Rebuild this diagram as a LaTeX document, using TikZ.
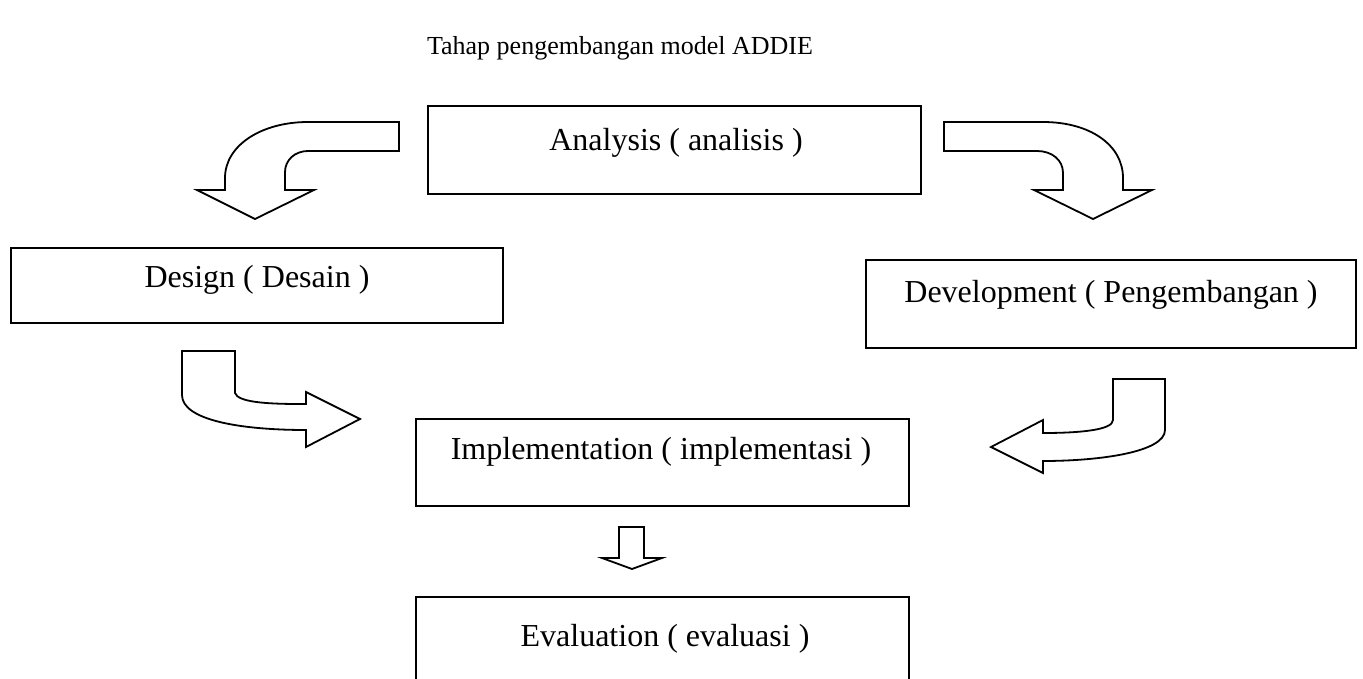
\documentclass[tikz,border=0pt]{standalone}
\usepackage{fontspec}
\setmainfont{Liberation Serif}
\begin{document}
\begin{tikzpicture}[x=1pt,y=-1pt,
  stagebox/.style={draw=black,line width=2pt,fill=none},
  stagetext/.style={font=\fontsize{32}{36}\selectfont,inner sep=0pt},
  blockarrow/.style={draw=black,line width=1.8pt,fill=white,line join=miter}]
\useasboundingbox (0,0) rectangle (1363,679);
\clip (0,0) rectangle (1363,679);
\node[font=\fontsize{26}{30}\selectfont,inner sep=0pt] (title) at (620,48) {Tahap pengembangan model ADDIE};
% boxes
\draw[stagebox] (428,106) rectangle (921,194);
\draw[stagebox] (11,248) rectangle (503,323);
\draw[stagebox] (866,260) rectangle (1356,348);
\draw[stagebox] (416,419) rectangle (909,506);
\draw[stagebox] (416,597) rectangle (909,700);
\node[stagetext] (analysis) at (676,143) {Analysis ( analisis )};
\node[stagetext] (design) at (257,280) {Design ( Desain )};
\node[stagetext] (development) at (1111,295) {Development ( Pengembangan )};
\node[stagetext] (implementation) at (661,452) {Implementation ( implementasi )};
\node[stagetext] (evaluation) at (665,639) {Evaluation ( evaluasi )};
% top-left curved arrow
\draw[blockarrow] (399,122) -- (308,122) .. controls (262,122) and (225,145) .. (225,178)
  -- (225,190) -- (197,190) -- (255,219) -- (314,190) -- (285,190) -- (285,172)
  .. controls (285,160) and (295,151) .. (308,151) -- (399,151) -- cycle;
% top-right curved arrow
\draw[blockarrow] (944,122) -- (1043,122) .. controls (1090,122) and (1123,145) .. (1123,178)
  -- (1123,190) -- (1152,190) -- (1093,219) -- (1034,190) -- (1063,190) -- (1063,173)
  .. controls (1063,160) and (1052,151) .. (1037,151) -- (944,151) -- cycle;
% bottom-left curved arrow
\draw[blockarrow] (182,351) -- (235,351) -- (235,393)
  .. controls (238,402) and (265,404) .. (300,404) -- (306,404) -- (306,392) -- (360,419)
  -- (306,447) -- (306,430) .. controls (240,430) and (182,420) .. (182,395) -- cycle;
% bottom-right curved arrow
\draw[blockarrow] (1113,379) -- (1165,379) -- (1165,430)
  .. controls (1165,452) and (1100,461) .. (1043,461) -- (1043,473) -- (991,447)
  -- (1043,420) -- (1043,433) .. controls (1080,433) and (1113,430) .. (1113,420) -- cycle;
% down arrow
\draw[blockarrow] (619,527) -- (644,527) -- (644,558) -- (662,558) -- (632,569)
  -- (602,558) -- (619,558) -- cycle;
\end{tikzpicture}
\end{document}
